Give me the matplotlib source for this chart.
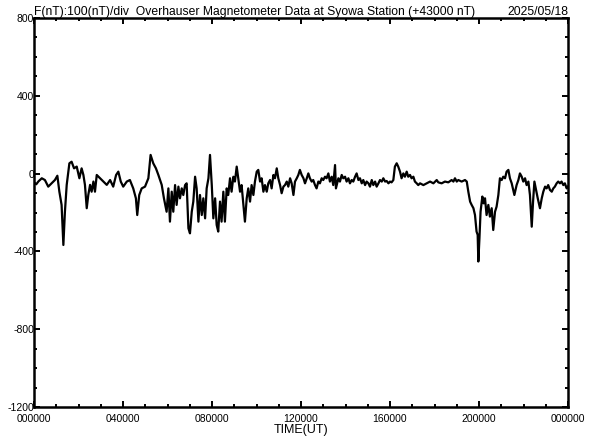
import matplotlib

matplotlib.use("Agg")
import matplotlib.pyplot as plt
from matplotlib.ticker import MultipleLocator

# F(nT) - 43000 nT; time in hours UT
hours = [
    0.00, 0.10, 0.20, 0.35, 0.49, 0.64, 0.79, 0.94, 1.05, 1.14, 1.24, 1.32, 1.39, 1.47,
    1.59, 1.69, 1.80, 1.92, 2.04, 2.14, 2.22, 2.29, 2.37, 2.44, 2.52, 2.59, 2.67, 2.74,
    2.82, 2.97, 3.12, 3.27, 3.42, 3.56, 3.69, 3.79, 3.90, 4.01, 4.17, 4.31, 4.46, 4.58,
    4.64, 4.73, 4.84, 4.99, 5.14, 5.24, 5.36, 5.48, 5.59, 5.74, 5.84, 5.96,
    6.04, 6.11, 6.19, 6.26, 6.34, 6.41, 6.49, 6.56, 6.64, 6.71, 6.79, 6.86, 6.94, 7.01,
    7.09, 7.16, 7.24, 7.31, 7.39, 7.46, 7.54, 7.61, 7.69, 7.76, 7.84, 7.91, 7.99, 8.06,
    8.14, 8.21, 8.28, 8.36, 8.43, 8.51, 8.58, 8.66, 8.73, 8.81, 8.88, 8.96, 9.03, 9.11,
    9.18, 9.26, 9.33, 9.41, 9.48, 9.56, 9.63, 9.71, 9.78, 9.86, 9.93, 10.01, 10.08, 10.16,
    10.23, 10.31, 10.38, 10.46, 10.53, 10.61, 10.68, 10.76, 10.83, 10.91, 10.98, 11.06,
    11.13, 11.21, 11.28, 11.36, 11.43, 11.51, 11.58, 11.66, 11.73, 11.81, 11.88, 11.95,
    12.03, 12.11, 12.18, 12.26, 12.33, 12.40, 12.48, 12.55, 12.63, 12.70, 12.78, 12.85,
    12.93, 13.00, 13.08, 13.15, 13.23, 13.30, 13.38, 13.45, 13.53, 13.57, 13.68, 13.75,
    13.83, 13.90, 13.98, 14.05, 14.13, 14.20, 14.28, 14.35, 14.43, 14.50, 14.58, 14.65,
    14.73, 14.80, 14.88, 14.95, 15.03, 15.10, 15.18, 15.25, 15.33, 15.40, 15.48, 15.55,
    15.63, 15.70, 15.78, 15.85, 15.93, 16.00, 16.07, 16.15, 16.22, 16.30, 16.37, 16.45,
    16.52, 16.60, 16.67, 16.75, 16.82, 16.90, 16.97, 17.05, 17.12, 17.20, 17.27, 17.35,
    17.50, 17.65, 17.80, 17.95, 18.10, 18.17, 18.32, 18.47, 18.62, 18.77, 18.85, 18.92,
    19.00, 19.07, 19.22, 19.37, 19.45, 19.52, 19.60, 19.67, 19.75, 19.82, 19.89, 19.94,
    19.97, 20.02, 20.07, 20.15, 20.21, 20.27, 20.34, 20.42, 20.49, 20.57, 20.64, 20.72,
    20.79, 20.87, 20.94, 21.02, 21.09, 21.17, 21.24, 21.32, 21.39, 21.47, 21.59, 21.69,
    21.77, 21.84, 21.92, 21.99, 22.07, 22.14, 22.22, 22.29, 22.37, 22.43, 22.49, 22.55,
    22.64, 22.74, 22.82, 22.89, 22.97, 23.04, 23.11, 23.19, 23.27, 23.34, 23.41, 23.49,
    23.56, 23.64, 23.71, 23.79, 23.86, 23.94, 23.99,
]
f_nt = [
    -45, -55, -40, -24, -33, -67, -50, -33, -11, -93, -161, -367, -196, -58,
    53, 61, 27, 36, -24, 27, -7, -58, -178, -110, -58, -93, -41, -93,
    -7, -24, -41, -58, -33, -67, -7, 10, -41, -67, -41, -33, -76, -127,
    -213, -110, -76, -67, -24, 96, 53, 27, -7, -58, -127, -196,
    -76, -247, -93, -196, -59, -161, -67, -127, -76, -110, -59, -50, -281, -307,
    -196, -144, -16, -76, -247, -110, -213, -127, -230, -76, -24, 96, -59, -230,
    -127, -264, -298, -144, -247, -93, -247, -76, -110, -24, -93, -16, -41, 36,
    -24, -93, -59, -161, -247, -127, -76, -144, -59, -110, -41, 10, 19, -41,
    -24, -93, -59, -93, -50, -33, -76, -7, -24, 27, -24, -59,
    -101, -67, -59, -41, -67, -24, -50, -110, -41, -24, -7, 19,
    -7, -24, -50, -24, 1, -24, -41, -33, -59, -76, -41, -50,
    -24, -33, -16, -24, 1, -41, -16, -59, 44, -76, -24, -41,
    -7, -24, -16, -41, -24, -50, -33, -41, -16, 1, -33, -24,
    -50, -33, -59, -41, -50, -67, -33, -59, -41, -67, -50, -33,
    -41, -24, -41, -38, -50, -41, -45, -33, 36, 53, 36, 10,
    -24, 1, -16, 10, -16, -7, -24, -16, -41, -50, -59, -50,
    -59, -50, -41, -50, -33, -45, -50, -41, -45, -33, -41, -24,
    -41, -33, -41, -33, -41, -93, -144, -161, -178, -213, -298, -315,
    -452, -333, -196, -118, -153, -127, -213, -161, -221, -178, -290, -196,
    -170, -110, -24, -33, -16, -24, 10, 19, -24, -50, -110, -59,
    -33, 1, -16, -41, -24, -59, -41, -110, -273, -144, -41, -76,
    -127, -178, -127, -93, -67, -76, -59, -84, -93, -76, -67, -50,
    -41, -50, -41, -59, -50, -76, -67,
]

x_ticks = [0, 4, 8, 12, 16, 20, 24]
x_labels = ["000000", "040000", "080000", "120000", "160000", "200000", "000000"]
y_ticks = [800, 400, 0, -400, -800, -1200]
y_labels = ["800", "400", "0", "-400", "-800", "-1200"]

plt.rcParams["font.family"] = ["Liberation Sans", "DejaVu Sans"]

fig = plt.figure(figsize=(5.92, 4.40), dpi=100)
ax = fig.add_axes([34 / 592, 1 - 407 / 440, 534 / 592, 389 / 440])

ax.plot(hours, f_nt, color="black", lw=1.6)

ax.set_xlim(0, 24)
ax.set_ylim(-1200, 800)
ax.set_xticks(x_ticks)
ax.set_xticklabels(x_labels)
ax.set_yticks(y_ticks)
ax.set_yticklabels(y_labels)
ax.xaxis.set_minor_locator(MultipleLocator(1))
ax.yaxis.set_minor_locator(MultipleLocator(100))
ax.tick_params(which="both", direction="in", top=True, right=True,
               width=1.4, labelsize=7.5, color="black")
ax.tick_params(which="major", length=4)
ax.tick_params(which="minor", length=2.2)
ax.tick_params(axis="y", pad=0)
ax.tick_params(axis="x", pad=5)
for s in ax.spines.values():
    s.set_linewidth(1.8)

ax.set_xlabel("TIME(UT)", fontsize=9, labelpad=0)
ax.set_title("F(nT):100(nT)/div  Overhauser Magnetometer Data at Syowa Station (+43000 nT)",
             loc="left", fontsize=8.7, pad=2)
ax.set_title("2025/05/18", loc="right", fontsize=8.7, pad=2)

fig.savefig("out.png", dpi=100)
plt.close(fig)
